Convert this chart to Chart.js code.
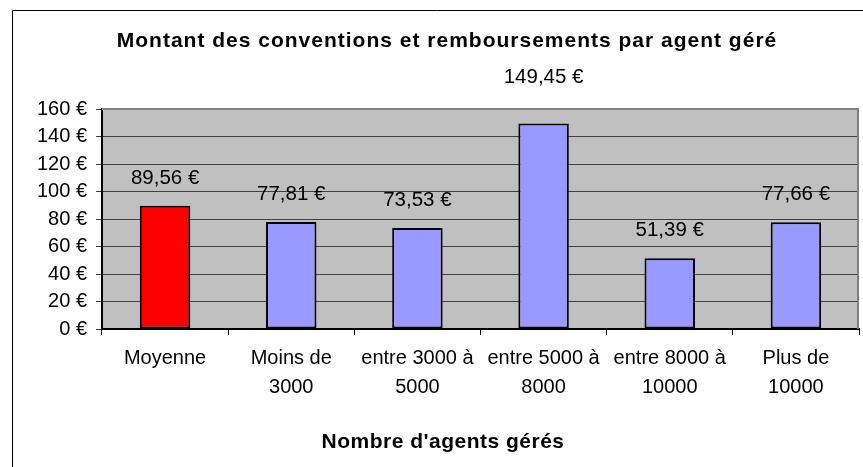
<!DOCTYPE html>
<html>
<head>
<meta charset="utf-8">
<script src="https://cdn.jsdelivr.net/npm/chart.js@4/dist/chart.umd.min.js"></script>
<style>
  html, body { margin: 0; padding: 0; background: #ffffff; }
  #wrap { position: absolute; left: 0; top: 0; width: 863px; height: 467px; }
</style>
</head>
<body>
<div id="wrap"><canvas id="c" width="863" height="467"></canvas></div>
<script>
const categories = [
  ['Moyenne'],
  ['Moins de', '3000'],
  ['entre 3000 à', '5000'],
  ['entre 5000 à', '8000'],
  ['entre 8000 à', '10000'],
  ['Plus de', '10000']
];
const values = [89.56, 77.81, 73.53, 149.45, 51.39, 77.66];
const barColors = ['#FF0000', '#9999FF', '#9999FF', '#9999FF', '#9999FF', '#9999FF'];
const yTicks = [0, 20, 40, 60, 80, 100, 120, 140, 160];
const chartTitle = 'Montant des conventions et remboursements par agent géré';
const xTitle = "Nombre d'agents gérés";

const FONT = '"Liberation Sans", Arial, sans-serif';
const labelOffsets = [28, 28, 28, 46, 28, 28];

function fmt(v) { return v.toFixed(2).replace('.', ',') + ' €'; }

const decor = {
  id: 'decor',
  beforeDraw(chart) {
    const { ctx, chartArea: a } = chart;
    ctx.save();
    ctx.fillStyle = '#C0C0C0';
    ctx.fillRect(a.left, a.top, a.right - a.left, a.bottom - a.top);
    // outer frame
    ctx.strokeStyle = '#000';
    ctx.lineWidth = 1;
    ctx.beginPath();
    ctx.moveTo(12.5, 467);
    ctx.lineTo(12.5, 10.5);
    ctx.lineTo(863, 10.5);
    ctx.stroke();
    // titles
    ctx.fillStyle = '#000';
    ctx.textAlign = 'center';
    ctx.textBaseline = 'alphabetic';
    ctx.font = 'bold 21px ' + FONT;
    ctx.letterSpacing = '1px';
    ctx.fillText(chartTitle, 447, 47);
    ctx.letterSpacing = '0.5px';
    ctx.fillText(xTitle, 443, 448);
    ctx.letterSpacing = '0px';
    ctx.restore();
  },
  afterDraw(chart) {
    const { ctx, chartArea: a } = chart;
    ctx.save();
    ctx.strokeStyle = '#808080';
    ctx.lineWidth = 2;
    ctx.beginPath();
    ctx.moveTo(a.left, a.top);
    ctx.lineTo(a.right - 1, a.top);
    ctx.lineTo(a.right - 1, a.bottom);
    ctx.stroke();
    ctx.restore();
  },
  afterDatasetsDraw(chart) {
    const { ctx } = chart;
    const meta = chart.getDatasetMeta(0);
    ctx.save();
    ctx.font = '20.5px ' + FONT;
    ctx.fillStyle = '#000';
    ctx.textAlign = 'center';
    ctx.textBaseline = 'middle';
    meta.data.forEach((bar, i) => {
      ctx.fillText(fmt(values[i]), bar.x, bar.y - labelOffsets[i]);
    });
    ctx.restore();
  }
};

new Chart(document.getElementById('c'), {
  type: 'bar',
  data: {
    labels: categories,
    datasets: [{
      data: values,
      backgroundColor: barColors,
      borderColor: '#000',
      borderWidth: 2,
      borderSkipped: false,
      categoryPercentage: 1,
      barPercentage: 0.4
    }]
  },
  options: {
    responsive: false,
    animation: false,
    events: [],
    layout: { padding: { left: 35, right: 4, top: 109, bottom: 0 } },
    plugins: {
      legend: { display: false },
      tooltip: { enabled: false },
      title: { display: false }
    },
    scales: {
      x: {
        grid: {
          offset: true,
          drawOnChartArea: false,
          drawTicks: true,
          tickLength: 6,
          color: '#000',
          lineWidth: 1
        },
        border: { color: '#000', width: 2 },
        ticks: {
          color: '#000',
          padding: 9,
          maxRotation: 0,
          autoSkip: false,
          font: { family: FONT, size: 20, lineHeight: 1.435 }
        },
        afterFit(s) { s.height = 138; }
      },
      y: {
        min: 0,
        max: 160,
        afterBuildTicks(s) { s.ticks = yTicks.map(v => ({ value: v })); },
        grid: {
          color: '#404040',
          lineWidth: 1,
          tickLength: 6,
          drawTicks: true
        },
        border: { color: '#000', width: 2 },
        ticks: {
          color: '#000',
          padding: 9,
          font: { family: FONT, size: 20 },
          callback: (v) => v + ' €'
        },
        afterFit(s) { s.width = 67; }
      }
    }
  },
  plugins: [decor]
});
</script>
</body>
</html>
